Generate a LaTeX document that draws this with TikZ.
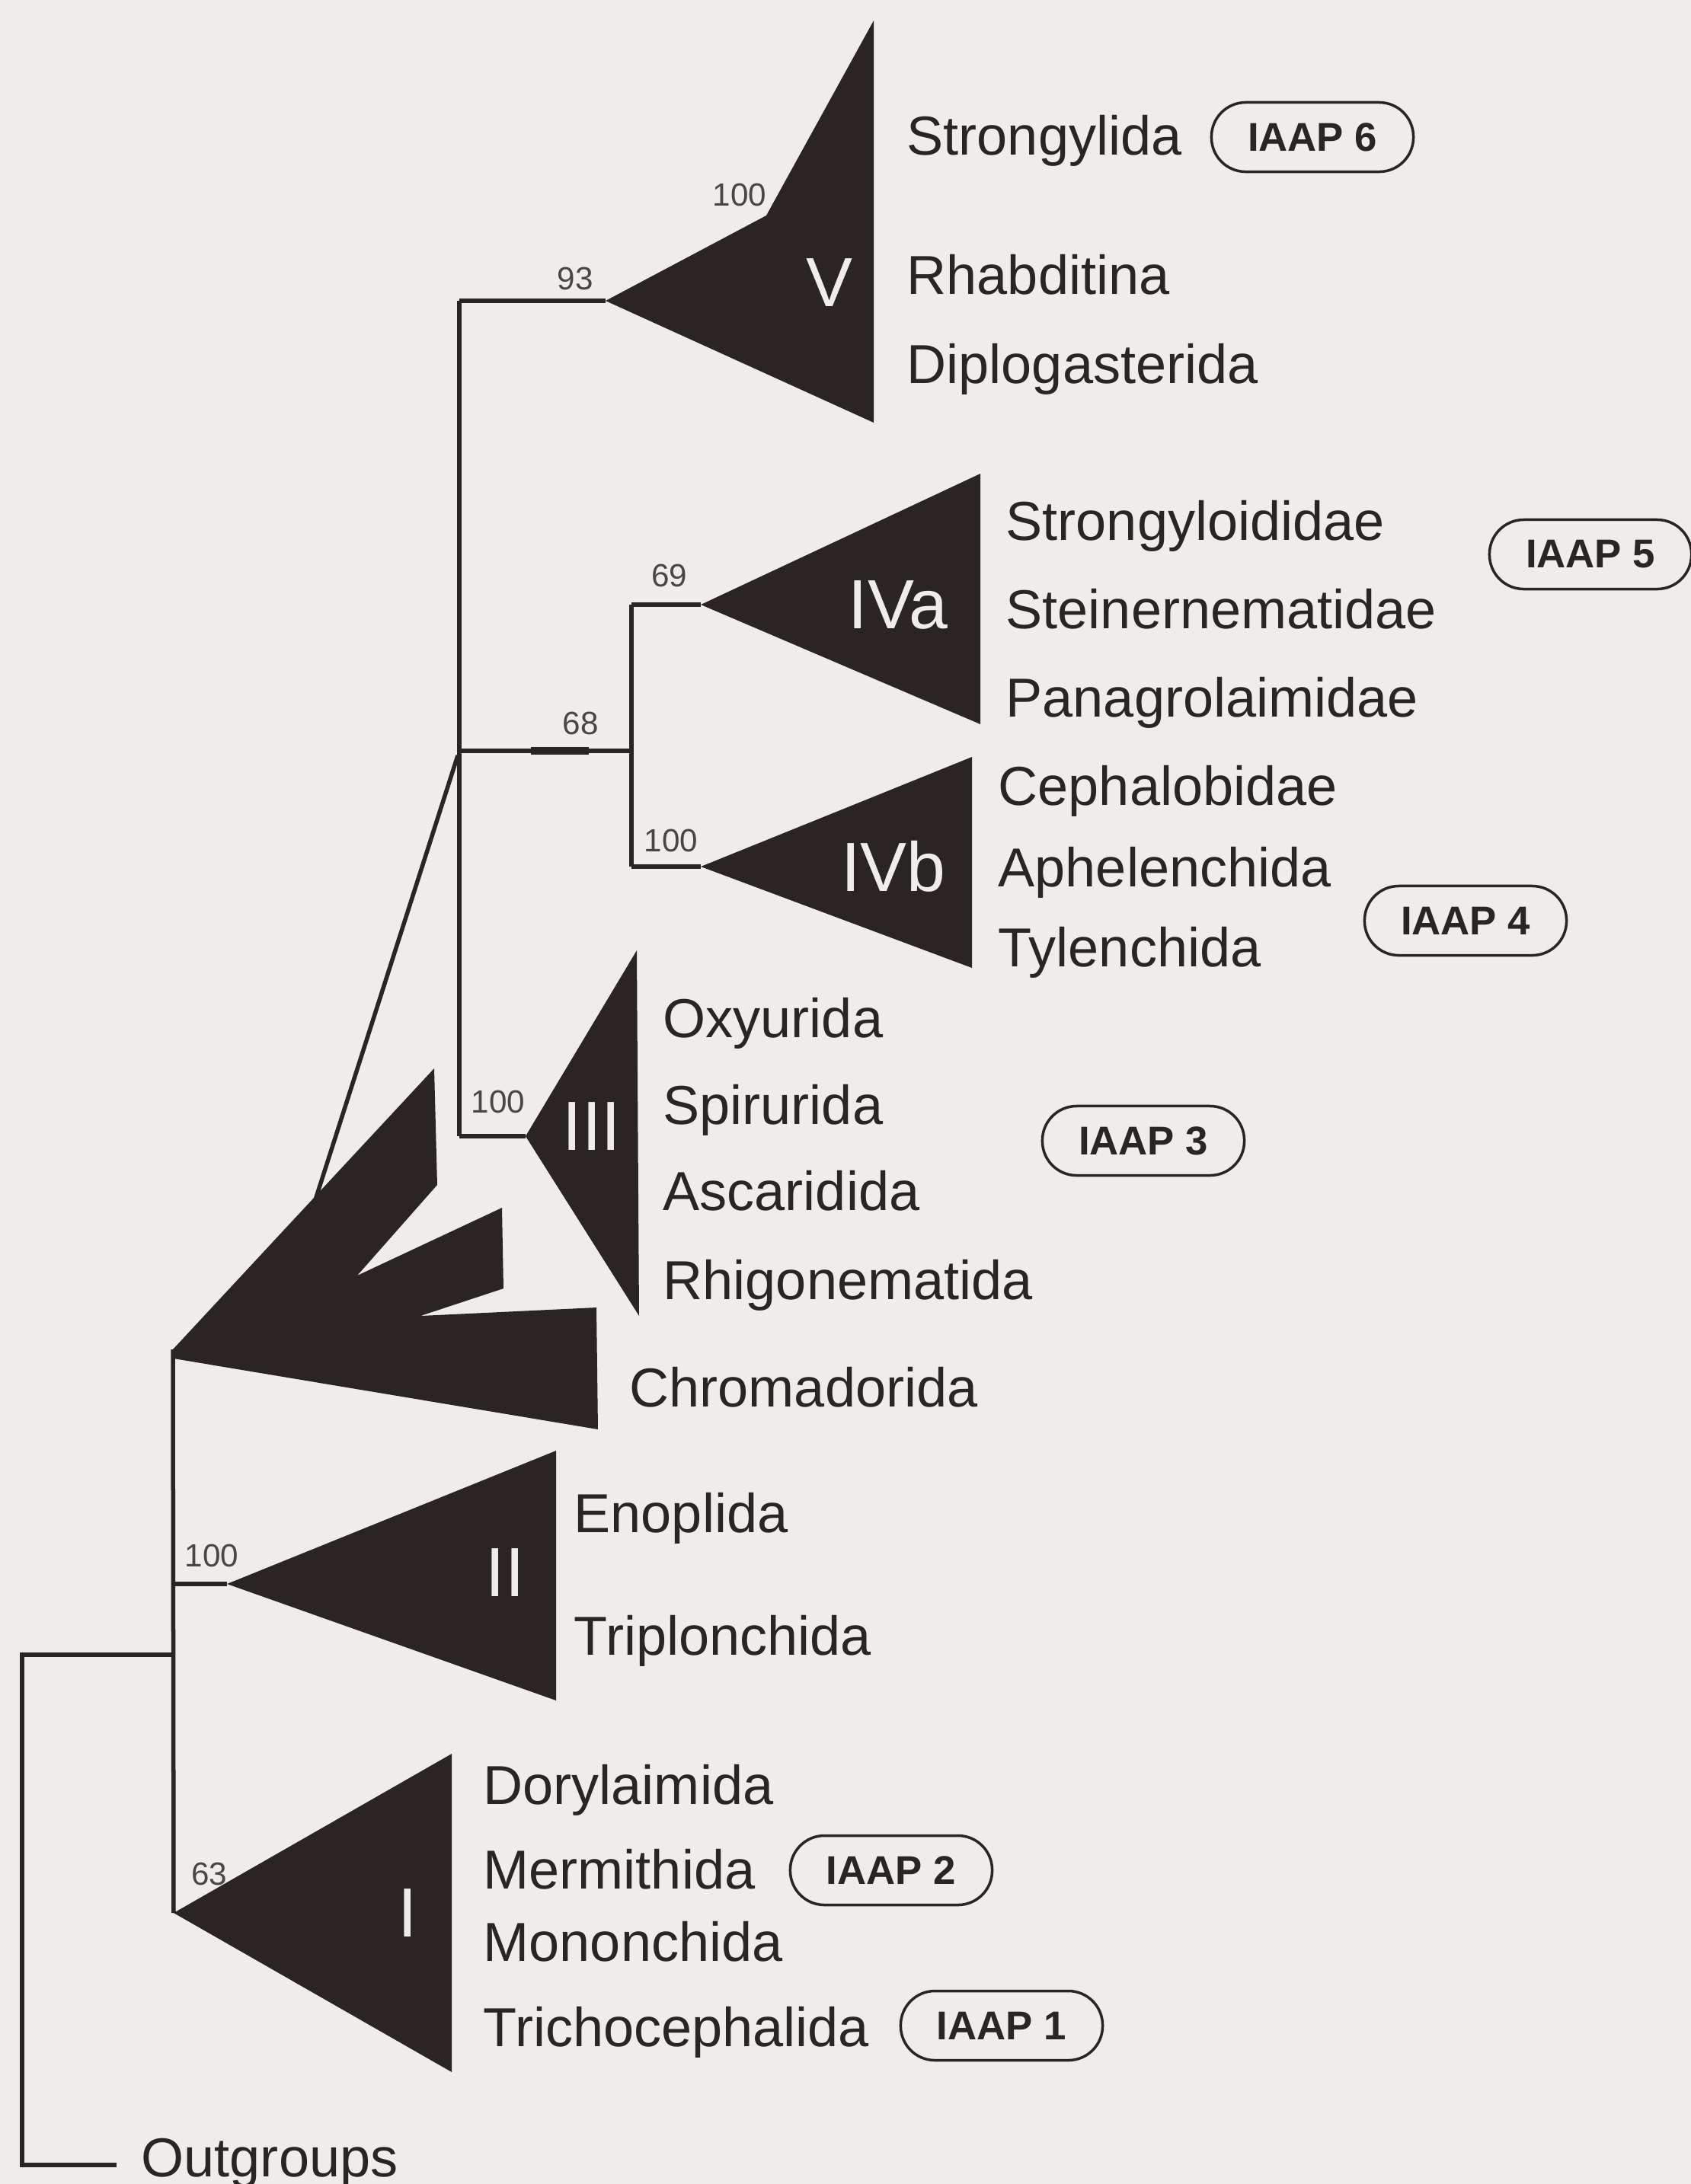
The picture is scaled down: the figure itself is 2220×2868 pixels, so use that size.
\documentclass[tikz,border=0pt]{standalone}
\usepackage{fontspec}
\setmainfont{Liberation Sans}
\usepackage{xcolor}
\usepackage{tikz}
\usetikzlibrary{calc,positioning}
\definecolor{paperGray}{HTML}{EEEDEA}
\definecolor{inkBlack}{HTML}{2A2425}
\definecolor{bootGray}{HTML}{4A4546}

\begin{document}
\begin{tikzpicture}[x=0.01cm, y=-0.01cm,
        branch/.style={draw=inkBlack, line width=0.55mm},
        clade/.style={fill=inkBlack},
        taxon/.style={anchor=base west, inner sep=0pt, text=inkBlack, font=\fontsize{20.5}{24}\selectfont},
        boot/.style={inner sep=0pt, text=bootGray, font=\fontsize{12}{14}\selectfont},
        numeral/.style={inner sep=0pt, text=paperGray, font=\fontsize{26}{30}\selectfont},
        iaap/.style={draw=inkBlack, line width=0.35mm, rounded corners=4.5mm, minimum width=2.65cm, minimum height=0.91cm, inner sep=0pt, text=inkBlack, font=\bfseries\fontsize{15}{18}\selectfont}]
    \fill[paperGray] (0,0) rectangle (2220,2868);
    \useasboundingbox (0,0) rectangle (2220,2868);

    \coordinate (nV) at (603,395);
    \coordinate (nIV) at (603,986);
    \coordinate (nIII) at (603,1492);
    \coordinate (nIVa) at (829,794);
    \coordinate (nIVb) at (829,1138);
    \coordinate (nIVj) at (829,986);
    \coordinate (apexV) at (795,395);
    \coordinate (apexIVa) at (920,794);
    \coordinate (apexIVb) at (920,1138);
    \coordinate (apexIII) at (690,1492);
    \coordinate (chromTip) at (227,1772);
    \coordinate (chromLink) at (410,1588);
    \coordinate (nII) at (228,2080);
    \coordinate (apexII) at (298,2080);
    \coordinate (apexI) at (228,2512);
    \coordinate (nOut) at (228,2173);
    \coordinate (outTop) at (29,2173);
    \coordinate (outBot) at (29,2843);
    \coordinate (outEnd) at (153,2843);

    \fill[clade] (apexV) -- (1006,283) -- (1147,27) -- (1147,555) -- cycle;
    \fill[clade] (apexIVa) -- (1287,622) -- (1287,951) -- cycle;
    \fill[clade] (apexIVb) -- (1276,994) -- (1276,1271) -- cycle;
    \fill[clade] (apexIII) -- (836,1248) -- (839,1728) -- cycle;
    \fill[clade] (chromTip) -- (570,1403) -- (574,1556) -- (469,1675) -- (659,1586) -- (661,1692)
        -- (552,1728) -- (783,1717) -- (785,1877) -- (228,1784) -- cycle;
    \fill[clade] (apexII) -- (730,1905) -- (730,2233) -- cycle;
    \fill[clade] (apexI) -- (593,2303) -- (593,2721) -- cycle;

    \draw[branch] (nV) -- (nIII);
    \draw[branch] (nV) -- (apexV);
    \draw[branch] (nIV) -- (nIVj);
    \draw[inkBlack, line width=1mm] (697,986) -- (773,986);
    \draw[branch] (nIVa) -- (nIVb);
    \draw[branch] (nIVa) -- (apexIVa);
    \draw[branch] (nIVb) -- (apexIVb);
    \draw[branch] (nIII) -- (apexIII);
    \draw[branch] ($(nIV)+(-2,6)$) -- (chromLink);
    \draw[branch] (chromTip) -- (apexI);
    \draw[branch] (nII) -- (apexII);
    \draw[branch] (nOut) -- (outTop) -- (outBot) -- (outEnd);

    \foreach \n/\x/\y/\lbl in {bV/755/366/93, bVs/971/256/100, bIVa/879/756/69, bIV/762/950/68,
            bIVb/881/1104/100, bIII/654/1447/100, bII/278/2043/100, bI/275/2461/63}
        \node[boot] (\n) at (\x,\y) {\lbl};

    \foreach \n/\x/\y/\lbl in {rV/1089/371/V, rIVa/1179/794/IVa, rIVb/1173/1138/IVb,
            rIII/777/1479/III, rII/663/2065/II, rI/535/2512/I}
        \node[numeral] (\n) at (\x,\y) {\lbl};

    \foreach \n/\x/\y/\lbl in {strongylida/1190/203/Strongylida, rhabditina/1190/386/Rhabditina,
            diplogasterida/1190/503/Diplogasterida, strongyloididae/1320/709/Strongyloididae,
            steinernematidae/1320/825/Steinernematidae, panagrolaimidae/1320/941/Panagrolaimidae,
            cephalobidae/1310/1057/Cephalobidae, aphelenchida/1310/1164/Aphelenchida,
            tylenchida/1310/1269/Tylenchida, oxyurida/870/1362/Oxyurida,
            spirurida/870/1476/Spirurida, ascaridida/870/1589/Ascaridida,
            rhigonematida/870/1706/Rhigonematida, chromadorida/826/1847/Chromadorida,
            enoplida/753/2012/Enoplida, triplonchida/753/2173/Triplonchida,
            dorylaimida/634/2369/Dorylaimida, mermithida/634/2480/Mermithida,
            mononchida/634/2575/Mononchida, trichocephalida/634/2687/Trichocephalida,
            outgroups/185/2858/Outgroups}
        \node[taxon] (\n) at (\x,\y) {\lbl};

    \foreach \n/\x/\y/\lbl in {iaapSix/1723/180/IAAP 6, iaapFive/2088/728/IAAP 5,
            iaapFour/1924/1209/IAAP 4, iaapThree/1501/1498/IAAP 3,
            iaapTwo/1170/2456/IAAP 2, iaapOne/1315/2660/IAAP 1}
        \node[iaap] (\n) at (\x,\y) {\lbl};
\end{tikzpicture}
\end{document}
